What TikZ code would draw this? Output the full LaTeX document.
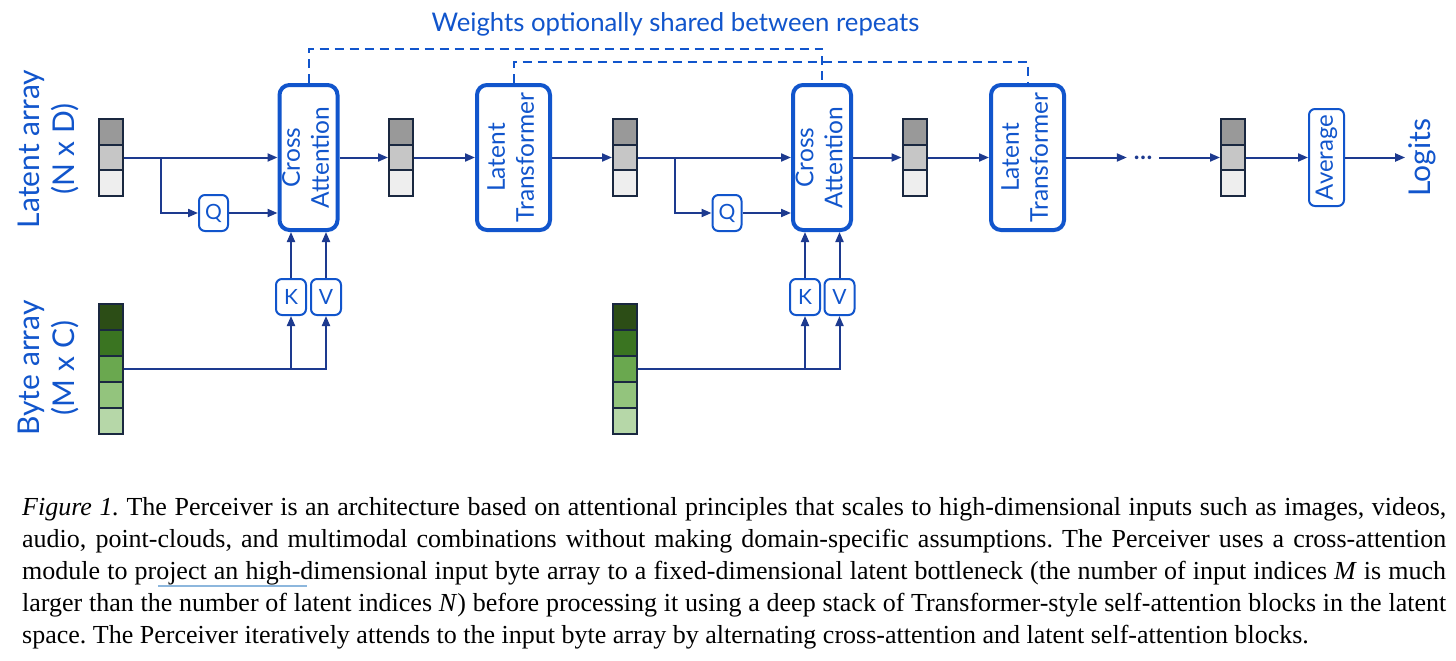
\documentclass[tikz,border=0pt]{standalone}
\usepackage{fontspec}
\setmainfont{Liberation Serif}
\newfontfamily\dfont{Lato}
\usetikzlibrary{arrows.meta}
\definecolor{bblue}{HTML}{1155CC}
\definecolor{navy}{HTML}{1D3A8F}
\definecolor{cedge}{HTML}{1A2840}
\definecolor{latA}{HTML}{999999}
\definecolor{latB}{HTML}{C6C6C6}
\definecolor{latC}{HTML}{EEEEEE}
\definecolor{byA}{HTML}{2C4D16}
\definecolor{byB}{HTML}{3A7421}
\definecolor{byC}{HTML}{6AA84F}
\definecolor{byD}{HTML}{93C47D}
\definecolor{byE}{HTML}{B6D7A8}
\definecolor{ulblue}{HTML}{8DB7DD}
\newcommand\vtext[1]{\rotatebox{90}{\begin{tabular}{@{}c@{}}#1\end{tabular}}}
\tikzset{
  bigbox/.style={draw=bblue, line width=4pt, rounded corners=10pt, inner sep=0pt,
    minimum height=145pt, text=bblue, font=\dfont\fontsize{24.5}{29}\selectfont},
  smallbox/.style={draw=bblue, line width=2pt, rounded corners=6pt, inner sep=0pt,
    minimum width=29pt, minimum height=36pt, text=bblue, font=\dfont\fontsize{21}{25}\selectfont},
  cell/.style={draw=cedge, line width=2pt, minimum width=24pt, inner sep=0pt},
  latcell/.style={cell, minimum height=25.67pt},
  bytecell/.style={cell, minimum height=26pt},
  arr/.style={draw=navy, line width=2pt, -{Triangle[length=10pt,width=8pt]}},
  share/.style={draw=bblue, line width=2pt, dash pattern=on 9pt off 6pt},
  biglabel/.style={text=bblue, font=\dfont\fontsize{30}{35}\selectfont, inner sep=0pt},
}
\newcommand\latblk[2]{%
  \node[latcell, fill=latA] (#1a) at (#2,131.83) {};
  \node[latcell, fill=latB] (#1b) at (#2,157.5) {};
  \node[latcell, fill=latC] (#1c) at (#2,183.17) {};}
\newcommand\bytblk[2]{%
  \node[bytecell, fill=byA] (#1a) at (#2,317) {};
  \node[bytecell, fill=byB] (#1b) at (#2,343) {};
  \node[bytecell, fill=byC] (#1c) at (#2,369) {};
  \node[bytecell, fill=byD] (#1d) at (#2,395) {};
  \node[bytecell, fill=byE] (#1e) at (#2,421) {};}
\begin{document}
\begin{tikzpicture}[x=1pt,y=-1pt]
\fill[white] (0,0) rectangle (1456,661);
\useasboundingbox (0,0) rectangle (1456,661);

% title
\node[anchor=base, text=bblue, font=\dfont\fontsize{25.7}{30}\selectfont, inner sep=0pt] (title) at (675.5,32) {Weights optionally shared between repeats};

% labels
\node[biglabel] (latlab) at (50,149) {\vtext{Latent array\\(N x D)}};
\node[biglabel] (bytlab) at (50,368) {\vtext{Byte array\\(M x C)}};

% latent arrays
\latblk{la}{111}
\latblk{lb}{401}
\latblk{lc}{625}
\latblk{ld}{914.5}
\latblk{le}{1233}

% byte arrays
\bytblk{ba}{111}
\bytblk{bb}{625}

% big boxes
\node[bigbox, minimum width=57pt] (ca1) at (308.5,157.5) {\vtext{Cross\\Attention}};
\node[bigbox, minimum width=73pt] (lt1) at (513.5,157.5) {\vtext{Latent\\Transformer}};
\node[bigbox, minimum width=56pt] (ca2) at (822,157.5) {\vtext{Cross\\Attention}};
\node[bigbox, minimum width=73pt] (lt2) at (1027.5,157.5) {\vtext{Latent\\Transformer}};

% small boxes
\node[smallbox] (q1) at (213.5,213) {Q};
\node[smallbox] (q2) at (727,213) {Q};
\node[smallbox, minimum width=30pt] (k1) at (291,297) {K};
\node[smallbox, minimum width=30pt] (v1) at (326,297) {V};
\node[smallbox, minimum width=30pt] (k2) at (805,297) {K};
\node[smallbox, minimum width=30pt] (v2) at (839.5,297) {V};
\node[smallbox, minimum width=35pt, minimum height=97pt, font=\dfont\fontsize{24}{29}\selectfont] (avg) at (1326.5,157.5) {\rotatebox{90}{Average}};

% dots and logits
\node[text=navy, inner sep=0pt, minimum width=32pt, font=\dfont\bfseries\fontsize{24}{24}\selectfont] (dots) at (1143,157.5) {…};
\node[biglabel, inner sep=3pt] (logits) at (1422,157.5) {\rotatebox{90}{Logits}};

% main flow
\draw[arr] (lab.east) -- (ca1.west);
\coordinate (br1) at (161,157.5);
\draw[arr] (br1) |- (q1.west);
\draw[arr] (q1.east) -- (q1.east -| ca1.west);
\draw[arr] (ca1.east) -- (lbb.west);
\draw[arr] (lbb.east) -- (lt1.west);
\draw[arr] (lt1.east) -- (lcb.west);
\draw[arr] (lcb.east) -- (ca2.west);
\coordinate (br2) at (675,157.5);
\draw[arr] (br2) |- (q2.west);
\draw[arr] (q2.east) -- (q2.east -| ca2.west);
\draw[arr] (ca2.east) -- (ldb.west);
\draw[arr] (ldb.east) -- (lt2.west);
\draw[arr] (lt2.east) -- (dots.west);
\draw[arr] (dots.east) -- (leb.west);
\draw[arr] (leb.east) -- (avg.west);
\draw[arr] (avg.east) -- (logits.west);

% byte array flow
\draw[arr] (bac.east) -| (v1.south);
\draw[arr] (bac.east -| k1.south) -- (k1.south);
\draw[arr] (k1.north) -- (k1.north |- ca1.south);
\draw[arr] (v1.north) -- (v1.north |- ca1.south);
\draw[arr] (bbc.east) -| (v2.south);
\draw[arr] (bbc.east -| k2.south) -- (k2.south);
\draw[arr] (k2.north) -- (k2.north |- ca2.south);
\draw[arr] (v2.north) -- (v2.north |- ca2.south);

% shared weights
\draw[share] (ca1.north) -- ++(0,-34) -| (ca2.north);
\draw[share] (lt1.north) -- ++(0,-21) -| (lt2.north);

% caption
\node[anchor=base west, inner sep=0pt, font=\fontsize{26}{32}\selectfont\frenchspacing] (caption) at (22,515) {\begin{tabular}[t]{@{}l@{}}
\hbox to 1424pt{\textit{Figure 1.} The Perceiver is an architecture based on attentional principles that scales to high-dimensional inputs such as images, videos,}\\
\hbox to 1424pt{audio, point-clouds, and multimodal combinations without making domain-specific assumptions. The Perceiver uses a cross-attention}\\
\hbox to 1424pt{module to project an high-dimensional input byte array to a fixed-dimensional latent bottleneck (the number of input indices \textit{M} is much}\\
\hbox to 1424pt{larger than the number of latent indices \textit{N}) before processing it using a deep stack of Transformer-style self-attention blocks in the latent}\\
space. The Perceiver iteratively attends to the input byte array by alternating cross-attention and latent self-attention blocks.
\end{tabular}};
\draw[ulblue, line width=1.5pt] (158,586) -- (307,586);
\end{tikzpicture}
\end{document}
